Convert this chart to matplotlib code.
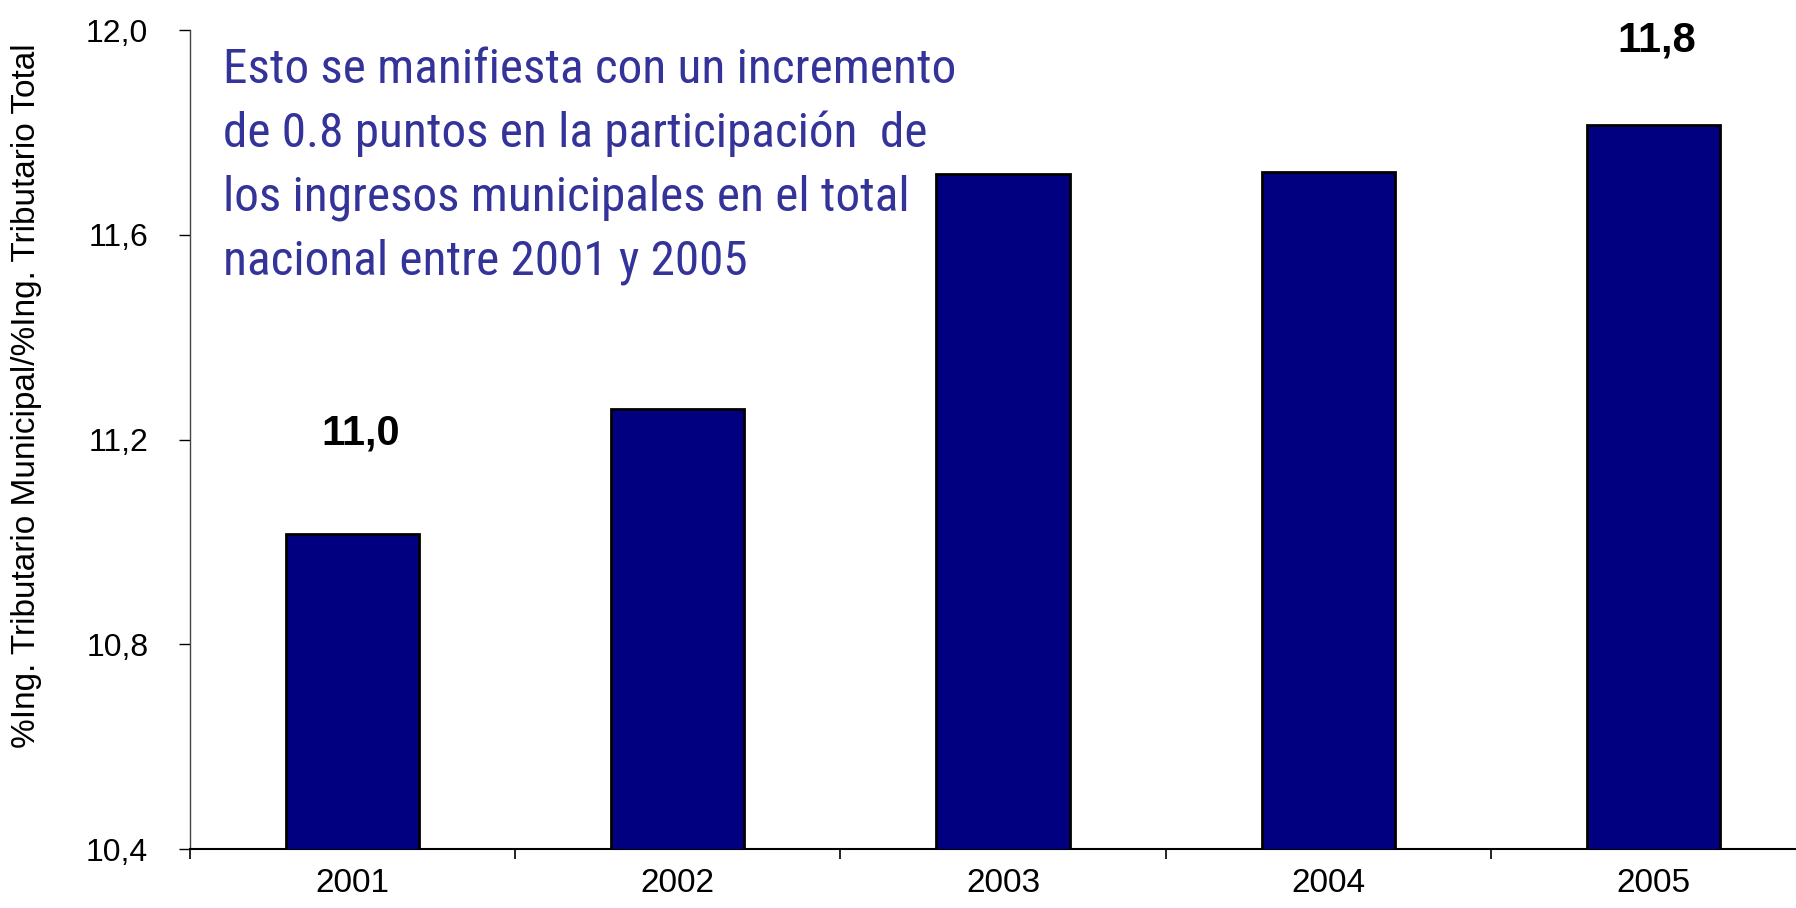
import matplotlib
matplotlib.use("Agg")
import matplotlib.pyplot as plt
from matplotlib import font_manager as fm

years = ["2001", "2002", "2003", "2004", "2005"]
values = [11.015, 11.26, 11.719, 11.723, 11.814]
labeled_idx = [0, 4]
label_offsets_px = [(8, 101), (3, 85)]
yticks = [10.4, 10.8, 11.2, 11.6, 12.0]
ytick_labels = ["10,4", "10,8", "11,2", "11,6", "12,0"]
ylabel = "%Ing. Tributario Municipal/%Ing. Tributario Total"
note = ("Esto se manifiesta con un incremento\n"
        "de 0.8 puntos en la participación  de\n"
        "los ingresos municipales en el total\n"
        "nacional entre 2001 y 2005")

# look for a narrow / condensed sans font for the annotation
fonts = fm.fontManager.ttflist
names = {f.name for f in fonts}
narrow = None
for cand in ["Liberation Sans Narrow", "Arial Narrow", "Roboto Condensed",
             "Open Sans Condensed", "Noto Sans Condensed"]:
    if cand in names:
        narrow = cand
        break
note_kw = {}
if narrow is None:
    cond = [f for f in fonts if f.stretch in ("condensed", "semi-condensed")
            and f.style == "normal" and f.weight in (400, "normal", "regular")]
    if cond:
        note_kw = {"fname": cond[0].fname}
        narrow = "file"
plt.rcParams["font.family"] = ["Liberation Sans", "DejaVu Sans"]

fig = plt.figure(figsize=(17.96, 9.08), dpi=100)
ax = fig.add_axes([190/1796, 59/908, 1626/1796, 819/908])

x = list(range(len(years)))
ax.bar(x, values, width=0.41, bottom=0, color="#000080", edgecolor="black", linewidth=2, zorder=3)
ax.set_ylim(10.4, 12.0)
ax.set_xlim(-0.5, len(years) - 0.5)

ax.set_yticks(yticks)
ax.set_yticklabels(ytick_labels, fontsize=23)
ax.tick_params(axis="y", direction="out", length=8, width=1, pad=22, colors="black")

ax.set_xticks([i - 0.5 for i in range(len(years) + 1)])
ax.set_xticklabels([])
ax.tick_params(axis="x", which="major", direction="out", length=7, width=1.2)
ax.set_xticks(x, minor=True)
ax.set_xticklabels(years, minor=True, fontsize=24)
ax.tick_params(axis="x", which="minor", length=0, pad=14)

for s in ["top", "right"]:
    ax.spines[s].set_visible(False)
ax.spines["left"].set_color("#444444")
ax.spines["left"].set_linewidth(1)
ax.spines["bottom"].set_linewidth(1.5)

ax.set_ylabel(ylabel, fontsize=24)
ax.yaxis.set_label_coords(-0.091, 0.553)

for i, (dx, dy) in zip(labeled_idx, label_offsets_px):
    v = values[i]
    ax.annotate(f"{v:.1f}".replace(".", ","), xy=(i, v), xytext=(dx * 0.72, dy * 0.72),
                textcoords="offset points", ha="center", va="center",
                fontsize=30, fontweight="bold")

ty = 1 - 47/908
if narrow is None:
    fig.text(223/1796, ty, note, fontsize=32, color="#333399",
             ha="left", va="top", linespacing=1.5)
elif narrow == "file":
    fp = fm.FontProperties(fname=note_kw["fname"], size=35.5)
    fig.text(223/1796, ty, note, fontproperties=fp, color="#333399",
             ha="left", va="top", linespacing=1.48)
else:
    fig.text(223/1796, ty, note, fontsize=35.5, color="#333399",
             family=[narrow, "DejaVu Sans"], ha="left", va="top", linespacing=1.48)

fig.savefig("out.png", dpi=100)
